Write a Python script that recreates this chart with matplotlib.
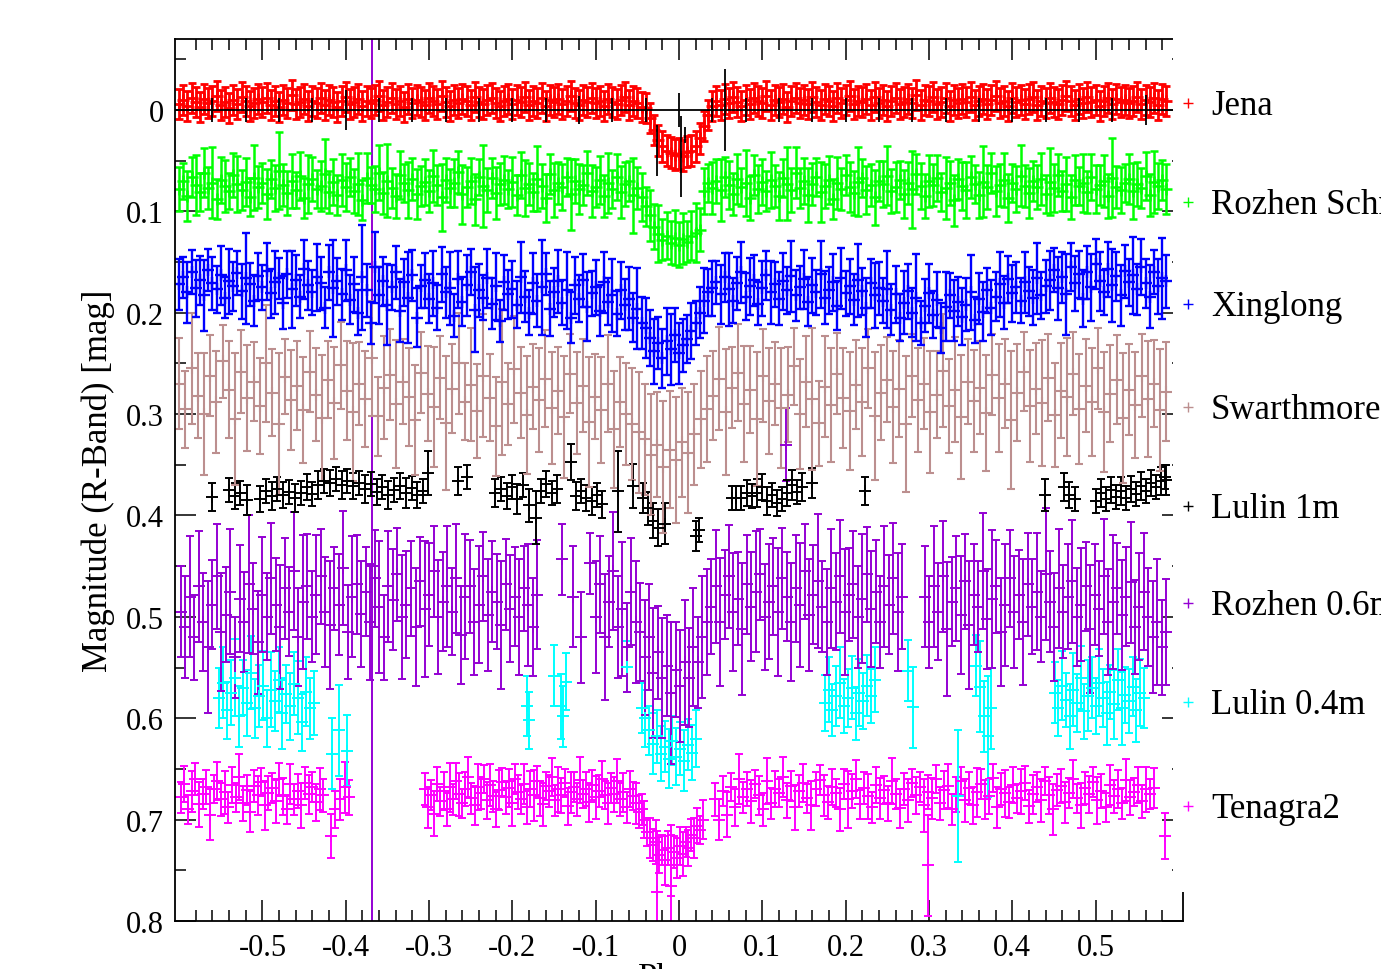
import numpy as np
import matplotlib
matplotlib.use("Agg")
import matplotlib.pyplot as plt
from matplotlib.patches import Rectangle
from matplotlib.lines import Line2D
from matplotlib.ticker import FixedLocator, FuncFormatter

plt.rcParams['font.family'] = ['Liberation Serif', 'DejaVu Serif']
plt.rcParams['axes.unicode_minus'] = False

# ---------------- data (magnitudes and errors in mmag) ----------------
series_names = ["Jena", "Rozhen Schmidt", "Xinglong", "Swarthmore",
                "Lulin 1m", "Rozhen 0.6m", "Lulin 0.4m", "Tenagra2"]
series_colors = ["#ff0000", "#00ff00", "#0000ff", "#bc8f8f",
                 "#000000", "#9400d3", "#00ffff", "#ff00ff"]

dense_phase_range = (-0.6, 0.585)

jena_mmag = [
    -6, -10, -4, -12, -8, -3, -11, -7, -9, -14, -5, -8, -2, -10, -6, -13, -9, -4, -7, -11,
    -8, -12, -5, -9, -3, -10, -7, -15, -6, -8, -11, -4, -9, -7, -12, -5, -10, -8, -3, -9,
    -13, -6, -8, -11, -4, -9, -7, -10, -14, -5, -8, -12, -6, -9, -3, -11, -7, -10, -8, -5,
    -12, -9, -6, -14, -8, -4, -10, -7, -11, -9, -5, -13, -8, -6, -10, -12, -7, -4, -9, -11,
    -6, -10, -8, -13, -5, -9, -7, -12, -4, -10, -8, -11, -6, -9, -14, -7, -5, -10, -8, -12,
    -7, -9, -4, -11, -8, -6, -10, -13, -5, -9, -7, -3,
    -2, 8, 20, 30, 36, 40, 42, 44, 43, 45, 41, 40, 36, 28, 16, 5, -4,
    -9, -5, -11, -7, -13, -8, -4, -10, -6, -12, -9, -7, -14, -5, -10, -8, -11, -3, -9, -12,
    -7, -10, -6, -13, -8, -5, -11, -9, -4, -12, -7, -10, -14, -6, -9, -8, -11, -5, -13, -7,
    -10, -4, -9, -12, -6, -8, -11, -7, -15, -5, -10, -9, -13, -6, -8, -12, -4, -10, -7, -11,
    -8, -13, -5, -9, -11, -6, -10, -14, -7, -9, -4, -12, -8, -10, -6, -11, -13, -5, -9, -7,
    -12, -8, -6, -10, -14, -9, -5, -11, -7, -13, -8, -10, -4, -9, -12, -6, -11, -8, -10, -7,
    -9, -13, -6, -10, -8, -12, -5, -11, -9]
jena_err = 15

rozhen_schmidt_mmag = [
    78, 70, 85, 66, 74, 81, 62, 77, 72, 88, 69, 75, 80, 64, 73, 79, 71, 86, 67, 76,
    72, 83, 68, 77, 60, 74, 82, 70, 79, 65, 87, 73, 68, 78, 75, 63, 81, 71, 84, 69,
    76, 66, 80, 73, 89, 67, 74, 78, 62, 82, 70, 77, 85, 64, 72, 79, 68, 83, 75, 71,
    80, 65, 74, 86, 69, 77, 72, 61, 83, 76, 70, 88, 66, 75, 79, 67, 82, 73, 69, 78,
    71, 84, 64, 77, 73, 81, 68, 75, 87, 63, 79, 72, 76, 66, 83, 70, 78, 74, 62, 80,
    76, 69, 85, 72, 78, 66, 81, 73, 70, 84, 77, 86,
    95, 104, 115, 122, 128, 124, 131, 126, 133, 127, 130, 124, 121, 118, 80, 72, 77,
    70, 79, 66, 74, 83, 68, 76, 72, 87, 64, 78, 71, 80, 69, 75, 85, 67, 73, 79, 62,
    77, 70, 84, 73, 66, 81, 75, 69, 88, 72, 78, 64, 76, 82, 71, 67, 79, 74, 86, 70,
    73, 65, 80, 76, 69, 83, 72, 78, 63, 75, 85, 70, 74, 67, 81, 77, 72, 89, 68, 75,
    79, 66, 73, 84, 71, 76, 62, 80, 74, 69, 87, 72, 78, 65, 75, 82, 70, 76, 68, 83,
    71, 77, 64, 80, 73, 86, 69, 75, 72, 81, 66, 78, 74, 70, 85, 67, 76, 79, 72, 68,
    80, 73, 77, 65, 84, 71, 75, 69, 78]
rozhen_schmidt_err = [
    22, 18, 25, 20, 30, 19, 24, 21, 35, 20, 23, 26, 18, 22, 28, 20, 24, 19, 32, 21,
    20, 25, 19, 23, 38, 21, 22, 27, 18, 24, 20, 29, 22, 19, 25, 34, 21, 23, 20, 26,
    24, 19, 22, 31, 20, 25, 18, 23, 27, 21, 36, 20, 22, 24, 19, 28, 21, 25, 20, 23,
    21, 26, 20, 33, 22, 19, 24, 21, 29, 20, 23, 25, 18, 40, 22, 20, 26, 21, 24, 19,
    25, 20, 23, 28, 21, 19, 32, 22, 24, 20, 27, 21, 23, 19, 35, 22, 25, 20, 22, 26,
    20, 24, 21, 30, 19, 23, 26, 22, 20, 37, 21, 24, 19, 25, 22, 28, 20, 23, 21, 27,
    22, 25, 20, 24, 29, 21, 23, 19, 26, 22, 31, 20, 24, 21, 25, 19, 33, 22, 20, 24,
    23, 20, 28, 21, 24, 19, 36, 22, 25, 20, 23, 27, 21, 19, 30, 22, 24, 20, 26, 21,
    20, 25, 22, 34, 19, 24, 21, 27, 20, 23, 29, 22, 25, 19, 24, 21, 38, 20, 23, 22,
    26, 21, 23, 19, 31, 22, 25, 20, 24, 28, 21, 19, 23, 35, 22, 20, 25, 21, 27, 24,
    19, 23, 30, 21, 25, 20, 22, 26, 19, 33, 24, 21, 20, 27, 22, 25, 19, 29, 21, 23,
    24, 20, 26, 22, 39, 21, 23, 19, 25, 28, 22, 20, 24, 21, 31, 23, 20, 25]

xinglong_mmag = [
    172, 165, 180, 160, 176, 168, 183, 158, 171, 177, 163, 185, 169, 174, 161, 179, 166, 172, 188, 164,
    175, 159, 181, 170, 166, 190, 162, 177, 168, 184, 157, 173, 180, 165, 171, 195, 160, 176, 169, 182,
    158, 187, 172, 200, 165, 178, 210, 155, 183, 169, 192, 175, 160, 198, 170, 185, 163, 205, 174, 168,
    186, 171, 195, 162, 180, 176, 203, 167, 189, 173, 160, 197, 178, 185, 166, 191, 174, 208, 170, 182,
    177, 192, 165, 184, 200, 171, 188, 175, 162, 196, 180, 169, 190, 178, 205, 173, 186, 168, 194, 181,
    175, 198, 170, 189, 183, 201, 178, 192, 186, 205, 196, 210,
    215, 225, 238, 230, 245, 228, 236, 222, 240, 232, 226, 218, 210, 200, 188, 180, 176,
    170, 182, 165, 177, 188, 171, 160, 184, 174, 168, 191, 176, 163, 180, 172, 186, 169, 178, 164, 183,
    175, 167, 189, 173, 180, 162, 185, 178, 170, 193, 166, 181, 174, 187, 168, 179, 195, 171, 183, 176,
    188, 177, 197, 182, 205, 190, 179, 200, 185, 210, 193, 181, 202, 187, 215, 194, 183, 198, 189, 204,
    192, 180, 207, 186, 199, 178, 195, 184, 172, 190, 167, 181, 175, 188, 170, 179, 185, 166, 183, 174,
    168, 158, 176, 165, 182, 155, 171, 162, 186, 160, 175, 152, 169, 180, 157, 173, 164, 183, 159, 170,
    163, 177, 155, 171, 184, 160, 174, 166, 169]
xinglong_err = [
    25, 20, 30, 22, 28, 24, 35, 21, 26, 23, 29, 20, 32, 24, 22, 27, 45, 21, 25, 23,
    22, 28, 24, 31, 20, 26, 23, 38, 25, 21, 29, 24, 22, 33, 26, 20, 27, 48, 23, 25,
    30, 24, 27, 22, 52, 26, 21, 35, 28, 24, 40, 22, 26, 31, 23, 45, 25, 29, 21, 27,
    24, 32, 22, 27, 25, 36, 21, 28, 24, 30, 23, 42, 26, 22, 29, 25, 33, 21, 27, 24,
    28, 23, 35, 25, 22, 30, 26, 47, 21, 27, 24, 31, 22, 38, 25, 28, 23, 26, 34, 22,
    27, 25, 30, 23, 36, 22, 28, 25, 31, 24, 40, 26, 30, 28, 32, 26, 29, 33, 35, 27,
    30, 26, 24, 28, 22, 25, 32, 23, 27, 21, 29, 24, 36, 22, 26, 30, 23, 28, 25, 21,
    27, 24, 31, 22, 26, 28, 23, 35, 25, 21, 29, 24, 27, 22, 33, 26, 23, 28, 24, 30,
    22, 27, 25, 36, 23, 29, 24, 32, 26, 22, 38, 25, 28, 23, 31, 27, 24, 43, 22, 26,
    29, 23, 27, 25, 34, 22, 30, 24, 28, 26, 37, 23, 25, 29, 22, 27, 24, 32, 26, 23,
    28, 25, 22, 30, 24, 27, 35, 23, 26, 29, 22, 31, 25, 40, 24, 27, 23, 28, 26, 33,
    25, 29, 22, 27, 36, 24, 30, 26, 23, 38, 25, 28, 24, 31, 22, 27, 40, 26]

swarthmore_mmag = [
    270, 295, 255, 282, 300, 262, 288, 248, 276, 305, 258, 284, 268, 292, 250, 279, 310, 263, 286, 272,
    296, 258, 281, 304, 266, 289, 252, 277, 298, 270, 285, 245, 302, 274, 261, 290, 268, 283, 306, 259,
    280, 293, 264, 309, 275, 250, 288, 271, 297, 262, 284, 312, 268, 290, 256, 279, 301, 273, 286, 265,
    294, 277, 303, 260, 289, 272, 308, 283, 296, 270, 315, 288, 300, 310, 318,
    325, 340, 330, 352, 335, 345, 328, 338, 320, 305, 295,
    282, 265, 298, 274, 259, 290, 276, 305, 262, 287, 270, 294, 281, 253, 300, 268, 285, 309, 273, 291,
    260, 284, 297, 271, 288, 255, 302, 279, 266, 293, 275, 310, 262, 286, 270, 298, 281, 257, 292, 276,
    303, 268, 287, 274, 299, 261, 284, 270, 306, 279, 258, 292, 275, 289, 264, 301, 277, 283, 260, 295,
    272, 288, 255, 298, 280, 266, 304, 276, 291, 262, 285, 270, 296, 278]
swarthmore_err = [
    45, 38, 55, 42, 60, 40, 50, 36, 48, 65, 41, 52, 39, 47, 58, 43, 70, 37, 49, 44,
    52, 40, 46, 62, 38, 55, 43, 49, 68, 41, 47, 57, 39, 51, 45, 63, 42, 48, 54, 40,
    47, 59, 41, 66, 44, 50, 38, 56, 46, 61, 43, 49, 72, 40, 53, 45, 58, 42, 51, 48,
    55, 43, 60, 39, 50, 46, 64, 42, 52, 48, 58, 44, 50, 55, 60,
    55, 60, 52, 65, 58, 62, 54, 60, 50, 48, 52,
    44, 51, 62, 40, 48, 57, 43, 66, 46, 52, 41, 59, 47, 38, 54, 45, 70, 42, 50, 56,
    40, 49, 58, 44, 53, 39, 63, 47, 42, 55, 48, 67, 41, 51, 45, 60, 43, 56, 46, 52,
    61, 42, 50, 46, 57, 40, 53, 44, 68, 48, 39, 55, 45, 62, 43, 51, 47, 58, 41, 54,
    46, 53, 40, 59, 48, 44, 64, 45, 52, 41, 57, 43, 60, 49]

lulin1m_phase = [
    -0.561, -0.540, -0.533, -0.527, -0.519,
    -0.503, -0.496, -0.489, -0.482, -0.475, -0.468, -0.461, -0.454, -0.447, -0.440,
    -0.433, -0.426, -0.419, -0.412, -0.405, -0.398, -0.391, -0.384, -0.377, -0.370,
    -0.363, -0.356, -0.349, -0.342, -0.335, -0.328, -0.321, -0.314, -0.307, -0.301,
    -0.265, -0.255,
    -0.221, -0.214, -0.207, -0.200, -0.194, -0.187, -0.180, -0.172, -0.166, -0.160, -0.153, -0.146,
    -0.130, -0.124, -0.118, -0.112, -0.105, -0.098, -0.092, -0.073, -0.055, -0.043, -0.037,
    -0.031, -0.025, -0.017, 0.020, 0.024,
    0.064, 0.069, 0.074, 0.082, 0.088, 0.094, 0.100, 0.106, 0.112, 0.118, 0.124, 0.130,
    0.136, 0.142, 0.148, 0.160, 0.223,
    0.439, 0.462, 0.468, 0.475,
    0.500, 0.506, 0.512, 0.518, 0.524, 0.530, 0.536, 0.542, 0.548, 0.554, 0.560, 0.566,
    0.572, 0.578, 0.583, 0.585]
lulin1m_mmag = [
    382, 375, 381, 378, 385,
    384, 376, 381, 374, 380, 377, 383, 378, 372, 379,
    370, 366, 368, 364, 370, 366, 371, 368, 374, 369,
    377, 372, 380, 375, 371, 378, 373, 380, 376, 358,
    366, 362,
    378, 374, 381, 372, 384, 370, 390, 402, 376, 369, 378, 374,
    347, 381, 376, 383, 386, 380, 389, 376, 371, 383, 393,
    405, 412, 408, 420, 414,
    383, 383, 383, 378, 381, 378, 372, 386, 380, 388, 384, 378,
    370, 377, 372, 368, 376,
    380, 372, 380, 384,
    386, 378, 384, 375, 382, 376, 383, 374, 379, 371, 376, 368,
    372, 366, 362, 365]
lulin1m_err = [
    14, 12, 13, 12, 15,
    13, 12, 14, 12, 13, 12, 14, 12, 13, 12,
    14, 12, 13, 12, 14, 12, 13, 12, 14, 12,
    13, 12, 14, 12, 13, 15, 12, 13, 12, 22,
    14, 12,
    14, 12, 13, 12, 15, 12, 16, 26, 12, 13, 12, 14,
    18, 14, 12, 13, 14, 12, 13, 40, 22, 15, 16,
    17, 18, 20, 15, 12,
    12, 12, 12, 13, 12, 14, 13, 14, 12, 13, 12, 13,
    15, 12, 14, 15, 14,
    16, 14, 13, 12,
    12, 14, 12, 13, 12, 14, 12, 13, 12, 14, 12, 13,
    12, 14, 12, 15]

# black reference ticks along the zero line
zero_line_phase = [-0.56, -0.52, -0.48, -0.44, -0.40, -0.36, -0.32, -0.28, -0.24, -0.20,
                   -0.16, -0.12, -0.08, -0.04, 0.00, 0.04, 0.08, 0.12, 0.16, 0.20,
                   0.24, 0.28, 0.32, 0.36, 0.40, 0.44, 0.48, 0.52, 0.56,
                   -0.027, 0.002, 0.007, 0.055]
zero_line_mmag = [0] * 29 + [40, 46, 25, 0]
zero_line_err = [12, 12, 12, 12, 20, 12, 12, 12, 12, 12,
                 12, 14, 12, 12, 17, 12, 12, 12, 12, 12,
                 12, 12, 12, 12, 12, 12, 12, 12, 15,
                 25, 40, 8, 40]

rozhen06_ranges = [(-0.598, -0.170), (-0.100, 0.268), (0.295, 0.585)]
rozhen06_mmag_a = [
    495, 510, 480, 520, 470, 505, 530, 488, 460, 515, 498, 475, 540, 482, 505, 468, 492, 525, 478, 500,
    462, 488, 510, 472, 495, 455, 520, 485, 470, 500, 478, 460, 495, 508, 472, 488, 452, 515, 480, 468,
    497, 475, 505, 462, 490, 520, 470, 483, 458, 500, 488, 472, 510, 465, 492, 478, 455, 500, 485, 470,
    495, 462, 518, 480, 470, 505, 488, 460, 498, 475, 485, 508, 468, 492, 480, 500, 472, 488, 510, 478]
rozhen06_err_a = [
    45, 50, 60, 42, 55, 48, 65, 44, 52, 58, 47, 62, 40, 53, 49, 68, 45, 51, 57, 43,
    55, 46, 61, 50, 44, 58, 48, 66, 52, 45, 59, 47, 54, 63, 41, 50, 56, 46, 60, 49,
    52, 44, 57, 48, 65, 42, 55, 50, 46, 61, 53, 47, 58, 44, 67, 51, 45, 56, 49, 60,
    43, 54, 48, 62, 46, 52, 58, 44, 55, 50, 47, 63, 45, 53, 49, 57, 42, 60, 48, 54]
rozhen06_mmag_b = [
    500, 468, 520, 485, 455, 510, 492, 530, 475, 505,
    515, 540, 520, 555, 535, 560, 548, 575, 552, 568, 545, 560, 530, 545, 520, 505,
    490, 470, 505, 478, 460, 495, 482, 512, 468, 490, 475, 458, 500, 485, 470, 495, 462, 480, 505, 472,
    488, 455, 498, 478, 465, 490, 505, 472, 485, 460, 495, 478, 468, 500, 482, 458, 492, 475, 505, 470,
    488, 462, 495, 480]
rozhen06_err_b = [
    55, 48, 62, 45, 58, 50, 66, 44, 53, 60, 48, 57, 52, 64, 46, 59, 50, 70, 47, 55,
    62, 49, 58, 45, 60, 52, 47, 56, 63, 44, 51, 58, 46, 65, 49, 54, 60, 45, 52, 57,
    48, 63, 50, 44, 58, 53, 61, 47, 55, 49, 66, 45, 52, 59, 48, 56, 62, 46, 53, 50,
    64, 47, 57, 51, 45, 60, 49, 55, 58, 52]
rozhen06_mmag_c = [
    480, 505, 470, 495, 460, 512, 485, 472, 498, 465, 508, 478, 490, 455, 502, 482, 470, 515, 488, 462,
    495, 478, 505, 468, 490, 475, 500, 458, 485, 510, 472, 495, 480, 465, 500, 488, 470, 512, 478, 492,
    460, 505, 485, 472, 498, 480, 466, 510, 490, 475, 500, 520, 505, 530, 515]
rozhen06_err_c = [
    50, 45, 60, 48, 55, 66, 44, 52, 58, 47, 63, 50, 45, 57, 49, 68, 46, 53, 60, 48,
    55, 44, 62, 51, 47, 58, 45, 65, 50, 53, 59, 46, 52, 61, 48, 56, 44, 63, 50, 47,
    57, 52, 66, 45, 54, 49, 60, 46, 53, 58, 48, 55, 62, 47, 52]
rozhen06_extra_phase = [-0.140, -0.127, -0.118, -0.107, -0.369, 0.128]
rozhen06_extra_mmag = [443, 480, 520, 447, 450, 330]
rozhen06_extra_err = [35, 50, 45, 30, 1000, 36]

lulin04_ranges = [(-0.552, -0.438), (-0.045, 0.020), (0.175, 0.235), (0.451, 0.558)]
lulin04_mmag_a = [580, 565, 592, 575, 560, 598, 570, 585, 555, 590, 578, 568, 600, 572, 583,
                  562, 595, 576, 588, 566, 580, 604, 574, 590, 585]
lulin04_err_a = [30, 35, 28, 32, 38, 30, 27, 33, 36, 29, 31, 34, 28, 37, 30,
                 32, 35, 29, 33, 31, 36, 28, 34, 30, 32]
lulin04_mmag_b = [590, 600, 612, 625, 618, 635, 628, 640, 622, 638, 630, 642, 626, 634, 620]
lulin04_err_b = [25, 28, 24, 30, 26, 27, 25, 29, 24, 28, 26, 30, 25, 27, 28]
lulin04_mmag_c = [585, 572, 592, 578, 565, 588, 580, 570, 595, 575, 583, 568, 578, 562]
lulin04_err_c = [28, 32, 26, 30, 35, 27, 29, 31, 26, 33, 28, 30, 27, 32]
lulin04_mmag_d = [575, 590, 568, 582, 598, 572, 585, 560, 593, 578, 570, 588, 565, 580, 595,
                  574, 586, 562, 590, 577, 583, 569, 592, 575, 580]
lulin04_err_d = [30, 28, 34, 27, 32, 36, 29, 31, 27, 35, 30, 28, 33, 29, 31,
                 27, 34, 30, 36, 28, 32, 29, 31, 33, 30]
lulin04_extra_phase = [-0.416, -0.408, -0.399, -0.183, -0.180, -0.150, -0.142, -0.139, -0.136,
                       -0.063, 0.275, 0.281, 0.335, 0.356, 0.361, 0.366, 0.371, 0.375]
lulin04_extra_mmag = [635, 612, 632, 588, 602, 558, 588, 598, 564,
                      549, 553, 589, 677, 548, 569, 598, 618, 590]
lulin04_extra_err = [35, 45, 35, 30, 28, 30, 32, 30, 28,
                     25, 30, 40, 65, 30, 45, 35, 60, 40]

tenagra_ranges = [(-0.598, -0.427), (-0.418, -0.396), (-0.305, -0.048), (-0.045, 0.029), (0.043, 0.570)]
tenagra_mmag_a = [678, 665, 690, 672, 660, 685, 675, 668, 695, 670, 662, 680, 673, 688, 666, 678, 658, 684, 671, 692,
                  667, 676, 663, 686, 674, 669, 682, 660, 677, 690, 665, 680, 672, 686, 664, 675, 668, 683, 670, 676]
tenagra_err_a = [15, 18, 14, 20, 16, 22, 15, 17, 25, 14, 19, 16, 21, 15, 18, 14, 23, 17, 15, 20,
                 16, 19, 14, 24, 17, 15, 21, 16, 18, 14, 20, 15, 17, 22, 16, 19, 15, 18, 21, 16]
tenagra_mmag_b = [716, 690, 680, 668, 678]
tenagra_err_b = [22, 18, 20, 25, 17]
tenagra_mmag_c = [
    670, 688, 676, 694, 665, 682, 672, 690, 668, 680, 662, 675, 684, 670, 658, 679, 686, 668, 674, 660,
    681, 666, 677, 690, 671, 663, 678, 669, 684, 660, 673, 680, 665, 688, 670, 676, 662, 679, 685, 667,
    672, 658, 681, 670, 676, 664, 687, 673, 668, 680, 661, 675, 670, 683, 666, 678, 672, 660, 676, 684,
    669, 675, 662, 680, 673, 688, 670, 677, 684, 692]
tenagra_err_c = [
    16, 20, 15, 22, 17, 14, 19, 16, 24, 15, 18, 21, 14, 17, 20, 15, 19, 23, 16, 14,
    18, 21, 15, 17, 20, 14, 16, 19, 22, 15, 17, 14, 20, 16, 18, 25, 15, 17, 21, 14,
    16, 19, 15, 22, 17, 14, 18, 20, 15, 16, 23, 14, 17, 19, 15, 21, 16, 18, 14, 20,
    15, 17, 22, 16, 19, 15, 18, 14, 20, 16]
tenagra_mmag_d = [690, 700, 712, 718, 725, 722, 735, 730, 740, 728, 745, 732, 738, 726, 734, 722,
                  728, 715, 718, 706, 710, 700]
tenagra_err_d = [15, 18, 14, 20, 16, 22, 18, 15, 24, 17, 30, 16, 20, 19, 22, 15, 18, 16, 20, 17, 14, 19]
tenagra_mmag_e = [
    680, 700, 672, 695, 668, 688, 660, 678, 670, 682, 665, 676, 690, 662, 684, 670, 674, 658, 681, 667,
    688, 672, 664, 679, 686, 670, 661, 676, 683, 668, 674, 690, 665, 680, 672, 660, 685, 669, 677, 688,
    666, 679, 671, 684, 662, 675, 689, 670, 681, 664, 676, 668, 686, 673, 679, 660, 684, 671, 667, 690,
    675, 662, 681, 669, 686, 673, 665, 680, 677, 659, 688, 670, 674, 683, 666, 679, 672, 664, 687, 675,
    668, 681, 662, 676, 690, 671, 667, 683, 674, 660, 679, 686, 669, 675, 663, 681, 672, 688, 666, 677,
    670, 684, 661, 678, 673, 666, 682, 670, 675, 669]
tenagra_err_e = [
    16, 20, 15, 22, 14, 18, 25, 15, 17, 21, 14, 19, 16, 23, 15, 18, 14, 20, 17, 15,
    22, 16, 19, 14, 24, 17, 15, 20, 16, 18, 14, 21, 15, 28, 17, 19, 14, 16, 22, 15,
    18, 20, 14, 17, 23, 15, 19, 16, 21, 14, 18, 15, 26, 17, 20, 14, 16, 19, 22, 15,
    17, 14, 21, 16, 18, 24, 15, 19, 17, 14, 20, 16, 23, 15, 18, 14, 22, 17, 16, 19,
    15, 21, 14, 18, 25, 16, 17, 20, 15, 19, 14, 22, 16, 18, 15, 23, 17, 14, 20, 16,
    19, 15, 21, 17, 14, 18, 16, 22, 15, 20]
tenagra_extra_phase = [-0.026, -0.010, 0.299, 0.583]
tenagra_extra_mmag = [771, 765, 745, 716]
tenagra_extra_err = [60, 60, 50, 23]

legend_y_px = [104, 203, 305, 408, 507, 604, 703, 807]

# ---------------- figure ----------------
W, H = 1381, 970
fig = plt.figure(figsize=(W / 100, H / 100), dpi=100)
ax = fig.add_axes([175 / W, (H - 922) / H, (1183 - 175) / W, (922 - 40) / H])


def seg_points(rng, mags, errs):
    n = min(len(mags), len(errs))
    x = np.linspace(rng[0], rng[1], n)
    return x, np.asarray(mags[:n]) / 1000.0, np.asarray(errs[:n]) / 1000.0


def draw(x, y, e, color, lw=1.4):
    ax.errorbar(x, y, yerr=e, fmt='+', color=color, ecolor=color, ms=8, mew=lw,
                elinewidth=lw, capsize=3, capthick=lw)


def draw_segments(ranges, mag_lists, err_lists, color, lw=1.4):
    for rng, m, e in zip(ranges, mag_lists, err_lists):
        draw(*seg_points(rng, m, e), color, lw)


# drawn in reverse order so upper series lie on top
draw_segments(tenagra_ranges,
              [tenagra_mmag_a, tenagra_mmag_b, tenagra_mmag_c, tenagra_mmag_d, tenagra_mmag_e],
              [tenagra_err_a, tenagra_err_b, tenagra_err_c, tenagra_err_d, tenagra_err_e],
              series_colors[7])
draw(np.array(tenagra_extra_phase), np.array(tenagra_extra_mmag) / 1000,
     np.array(tenagra_extra_err) / 1000, series_colors[7])

draw_segments(lulin04_ranges,
              [lulin04_mmag_a, lulin04_mmag_b, lulin04_mmag_c, lulin04_mmag_d],
              [lulin04_err_a, lulin04_err_b, lulin04_err_c, lulin04_err_d],
              series_colors[6])
draw(np.array(lulin04_extra_phase), np.array(lulin04_extra_mmag) / 1000,
     np.array(lulin04_extra_err) / 1000, series_colors[6])

draw_segments(rozhen06_ranges,
              [rozhen06_mmag_a, rozhen06_mmag_b, rozhen06_mmag_c],
              [rozhen06_err_a, rozhen06_err_b, rozhen06_err_c],
              series_colors[5])
draw(np.array(rozhen06_extra_phase), np.array(rozhen06_extra_mmag) / 1000,
     np.array(rozhen06_extra_err) / 1000, series_colors[5])

draw(np.array(lulin1m_phase), np.array(lulin1m_mmag) / 1000,
     np.array(lulin1m_err) / 1000, series_colors[4])

draw(*seg_points(dense_phase_range, swarthmore_mmag, swarthmore_err), series_colors[3], 1.5)
draw(*seg_points(dense_phase_range, xinglong_mmag, xinglong_err), series_colors[2], 1.7)
draw(*seg_points(dense_phase_range, rozhen_schmidt_mmag, rozhen_schmidt_err), series_colors[1], 1.8)
draw(*seg_points(dense_phase_range, jena_mmag, [jena_err] * len(jena_mmag)), series_colors[0], 2.0)

ax.axhline(0, color='black', lw=1.3, zorder=5)
ax.errorbar(zero_line_phase, np.array(zero_line_mmag) / 1000, yerr=np.array(zero_line_err) / 1000,
            fmt='none', ecolor='black', elinewidth=1.3, capsize=0, zorder=5)

# ---------------- axes styling ----------------
ax.set_xlim(-0.605, 0.605)
ax.set_ylim(0.8, -0.07)

xmaj = [-0.5, -0.4, -0.3, -0.2, -0.1, 0.0, 0.1, 0.2, 0.3, 0.4, 0.5]
xmin = [round(-0.58 + 0.02 * i, 2) for i in range(59)]
xmin = [v for v in xmin if abs(v * 10 - round(v * 10)) > 1e-6]
ax.xaxis.set_major_locator(FixedLocator(xmaj))
ax.xaxis.set_minor_locator(FixedLocator(xmin))
ax.yaxis.set_major_locator(FixedLocator([0, 0.1, 0.2, 0.3, 0.4, 0.5, 0.6, 0.7, 0.8]))
ax.yaxis.set_minor_locator(FixedLocator([-0.05, 0.05, 0.15, 0.25, 0.35, 0.45, 0.55, 0.65, 0.75]))


def fmt(v, pos):
    return '%g' % (round(v, 3) + 0.0)


ax.xaxis.set_major_formatter(FuncFormatter(fmt))
ax.yaxis.set_major_formatter(FuncFormatter(fmt))
ax.tick_params(which='both', direction='in', top=True, right=True, width=1.1, labelsize=22)
ax.tick_params(which='major', length=15)
ax.tick_params(which='minor', length=8)
ax.tick_params(axis='x', pad=9)
ax.tick_params(axis='y', pad=8)
for s in ax.spines.values():
    s.set_linewidth(1.3)

# white legend box covering the right part of the frame
fig.add_artist(Rectangle((1173 / W, (H - 893) / H), 1 - 1173 / W, 893 / H,
                         transform=fig.transFigure, facecolor='white', edgecolor='none', zorder=3))

for name, color, ypx in zip(series_names, series_colors, legend_y_px):
    fig.add_artist(Line2D([1188 / W], [(H - ypx) / H], marker='+', ms=7, mew=1.0,
                          color=color, transform=fig.transFigure, zorder=4))
    fig.text(1211 / W, (H - ypx - 11) / H, name, fontsize=25, va='baseline', ha='left',
             zorder=4)

fig.text(98 / W, (H - 481) / H, 'Magnitude (R-Band) [mag]', rotation=90,
         fontsize=25, va='center', ha='center')
fig.text(679 / W, (H - 963) / H, 'Phase', fontsize=25, va='top', ha='center')

fig.savefig('out.png', dpi=100)
